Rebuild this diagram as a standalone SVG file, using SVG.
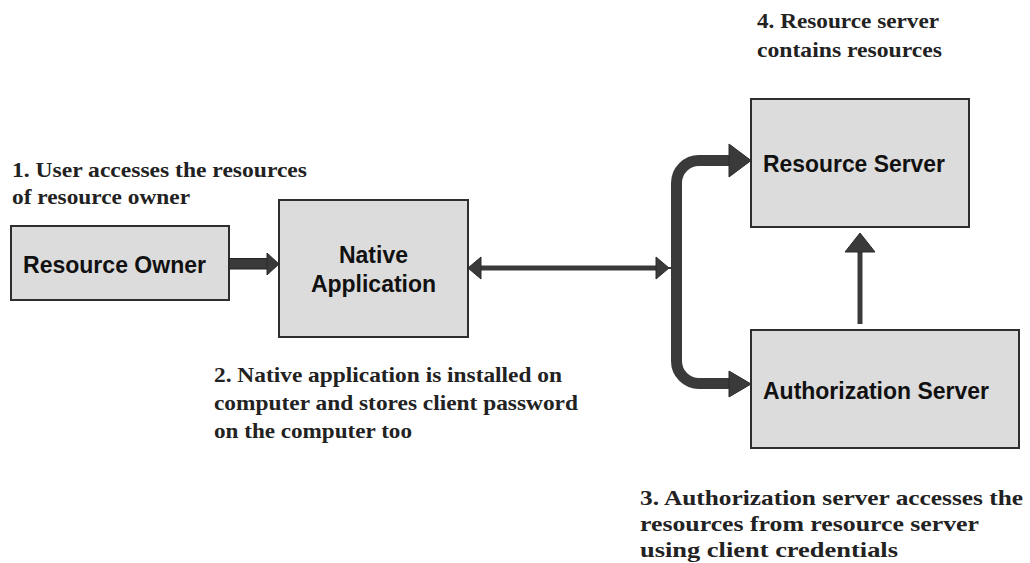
<svg xmlns="http://www.w3.org/2000/svg" width="1030" height="563" viewBox="0 0 1030 563">
  <defs>
    <style>
      .box { fill: #dcdcdc; stroke: #2e2e2e; stroke-width: 2; }
      .node-label { font-family: "Liberation Sans", Arial, sans-serif; font-weight: bold; font-size: 23px; fill: #111; }
      .note { font-family: "Liberation Serif", "Times New Roman", serif; font-weight: bold; font-size: 22px; fill: #222; }
      .thick { fill: none; stroke: #3a3a3a; stroke-width: 11; }
      .thin { fill: none; stroke: #3a3a3a; stroke-width: 5; }
      .head { fill: #3a3a3a; stroke: #2a2a2a; stroke-width: 1; }
    </style>
  </defs>
  <rect width="1030" height="563" fill="#ffffff"/>

  <!-- Notes -->
  <g id="note-1">
    <text class="note" x="12" y="177" textLength="295" lengthAdjust="spacingAndGlyphs">1. User accesses the resources</text>
    <text class="note" x="12" y="204" textLength="178" lengthAdjust="spacingAndGlyphs">of resource owner</text>
  </g>
  <g id="note-2">
    <text class="note" x="214" y="382" textLength="348" lengthAdjust="spacingAndGlyphs">2.  Native application is installed on</text>
    <text class="note" x="214" y="410" textLength="364" lengthAdjust="spacingAndGlyphs">computer and stores client password</text>
    <text class="note" x="214" y="438" textLength="198" lengthAdjust="spacingAndGlyphs">on the computer too</text>
  </g>
  <g id="note-3">
    <text class="note" x="640" y="505" textLength="383" lengthAdjust="spacingAndGlyphs">3. Authorization server accesses the</text>
    <text class="note" x="640" y="531" textLength="339" lengthAdjust="spacingAndGlyphs">resources from resource server</text>
    <text class="note" x="640" y="557" textLength="258" lengthAdjust="spacingAndGlyphs">using client credentials</text>
  </g>
  <g id="note-4">
    <text class="note" x="757" y="28" textLength="182" lengthAdjust="spacingAndGlyphs">4. Resource server</text>
    <text class="note" x="757" y="57" textLength="185" lengthAdjust="spacingAndGlyphs">contains resources</text>
  </g>

  <!-- Nodes -->
  <g id="resource-owner">
    <rect class="box" x="11" y="226" width="218" height="74"/>
    <text class="node-label" x="23" y="273" textLength="183" lengthAdjust="spacingAndGlyphs">Resource Owner</text>
  </g>
  <g id="native-application">
    <rect class="box" x="279" y="200" width="189" height="137"/>
    <text class="node-label" x="373.5" y="263" text-anchor="middle">Native</text>
    <text class="node-label" x="373.5" y="292" text-anchor="middle">Application</text>
  </g>
  <g id="resource-server">
    <rect class="box" x="751" y="99" width="218" height="128"/>
    <text class="node-label" x="763" y="172" textLength="182" lengthAdjust="spacingAndGlyphs">Resource Server</text>
  </g>
  <g id="authorization-server">
    <rect class="box" x="751" y="330" width="268" height="118"/>
    <text class="node-label" x="763" y="399" textLength="226" lengthAdjust="spacingAndGlyphs">Authorization Server</text>
  </g>

  <!-- Connectors -->
  <g id="connectors">
    <!-- Resource Owner to Native Application -->
    <rect x="229" y="258.5" width="40" height="10.5" fill="#3a3a3a" stroke="#222" stroke-width="1"/>
    <polygon class="head" points="267,253 279,264 267,275"/>

    <!-- Native Application to/from the server branch -->
    <line class="thin" x1="478" y1="268" x2="659" y2="268"/>
    <line x1="668" y1="268" x2="677" y2="268" stroke="#3a3a3a" stroke-width="2"/>
    <polygon class="head" points="468,268 481,257 481,279"/>
    <polygon class="head" points="669,268 656,257 656,279"/>

    <!-- Branch to Resource Server and Authorization Server -->
    <path class="thick" d="M 732 160.5 H 699 A 22.5 22.5 0 0 0 676.5 183 V 361 A 22.5 22.5 0 0 0 699 383.5 H 732"/>
    <polygon class="head" points="729,144 751,160.5 729,177"/>
    <polygon class="head" points="729,371 751,384 729,397"/>

    <!-- Authorization Server to Resource Server -->
    <line x1="860" y1="324" x2="860" y2="250" stroke="#3a3a3a" stroke-width="5"/>
    <polygon class="head" points="860,233 875,252 845,252"/>
  </g>
</svg>
